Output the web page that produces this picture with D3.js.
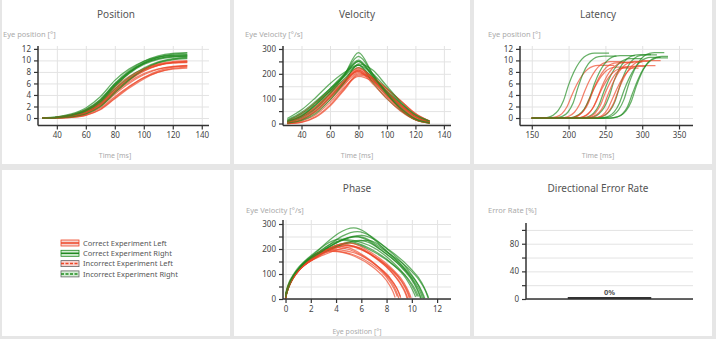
<!DOCTYPE html>
<html>
<head>
<meta charset="utf-8">
<script src="https://cdn.jsdelivr.net/npm/d3@7"></script>
<style>
  body { margin: 0; background: #e6e6e6; font-family: "Noto Sans", sans-serif; }
  svg { display: block; }
</style>
</head>
<body>
<svg id="chart" width="716" height="339"></svg>
<script>
// ---- data ----
const times = [30, 40, 50, 60, 70, 80, 90, 100, 110, 120, 130];

// eye position [deg] per trial, sampled at `times`
const posGreen = [
  [0, 0.12, 0.48, 1.32, 3.0, 5.75, 7.95, 9.55, 10.58, 11.1, 11.28],
  [0, 0.07, 0.32, 1.0, 2.55, 5.4, 7.83, 9.43, 10.3, 10.65, 10.74],
  [0, 0.15, 0.59, 1.49, 3.21, 5.9, 7.98, 9.45, 10.33, 10.73, 10.84],
  [0, 0.05, 0.25, 0.83, 2.18, 4.59, 6.76, 8.46, 9.56, 10.11, 10.3],
  [0, 0.19, 0.71, 1.75, 3.68, 6.53, 8.53, 9.85, 10.6, 10.93, 11.02],
  [0, 0.1, 0.43, 1.22, 2.86, 5.69, 8.04, 9.64, 10.51, 10.86, 10.95],
  [0, 0.08, 0.36, 1.07, 2.58, 5.05, 7.1, 8.68, 9.73, 10.3, 10.53],
  [0, 0.13, 0.53, 1.41, 3.15, 5.99, 8.24, 9.84, 10.79, 11.21, 11.33],
  [0, 0.04, 0.2, 0.7, 1.96, 4.33, 6.6, 8.43, 9.6, 10.2, 10.43],
  [0, 0.1, 0.43, 1.22, 2.84, 5.54, 7.74, 9.29, 10.19, 10.58, 10.69]
];
const posRed = [
  [0, 0.05, 0.23, 0.76, 1.99, 4.14, 6.04, 7.51, 8.46, 8.95, 9.12],
  [0, 0.08, 0.35, 1.0, 2.38, 4.7, 6.68, 8.2, 9.18, 9.65, 9.8],
  [0, 0.02, 0.11, 0.46, 1.43, 3.33, 5.2, 6.8, 7.95, 8.6, 8.85],
  [0, 0.09, 0.41, 1.14, 2.62, 5.0, 6.93, 8.33, 9.15, 9.52, 9.62],
  [0, 0.03, 0.17, 0.62, 1.73, 3.7, 5.5, 6.98, 7.98, 8.5, 8.68],
  [0, 0.13, 0.53, 1.37, 2.96, 5.4, 7.25, 8.55, 9.29, 9.6, 9.68],
  [0, 0.05, 0.25, 0.83, 2.16, 4.41, 6.31, 7.71, 8.54, 8.89, 8.97],
  [0, 0.06, 0.3, 0.91, 2.23, 4.52, 6.55, 8.12, 9.15, 9.67, 9.85],
  [0, 0.02, 0.12, 0.5, 1.52, 3.49, 5.42, 7.04, 8.19, 8.84, 9.09],
  [0, 0.09, 0.38, 1.07, 2.51, 4.93, 6.95, 8.45, 9.38, 9.81, 9.94]
];

// eye velocity [deg/s] per trial, sampled at `times`
const velGreen = [
  [10, 35, 80, 135, 195, 250, 190, 130, 75, 30, 5],
  [5, 20, 60, 120, 195, 285, 200, 120, 55, 15, 2],
  [15, 45, 90, 140, 190, 235, 180, 115, 60, 20, 3],
  [3, 15, 50, 105, 170, 235, 200, 140, 80, 30, 8],
  [20, 55, 105, 160, 205, 235, 165, 100, 50, 15, 3],
  [8, 30, 75, 130, 195, 270, 200, 120, 55, 15, 2],
  [5, 25, 65, 120, 180, 225, 185, 130, 80, 35, 10],
  [12, 40, 85, 140, 200, 255, 195, 125, 65, 20, 4],
  [2, 12, 40, 95, 165, 240, 215, 150, 85, 35, 10],
  [8, 30, 75, 130, 190, 250, 190, 120, 60, 18, 3]
];
const velRed = [
  [2, 15, 45, 95, 155, 205, 175, 120, 70, 28, 5],
  [5, 25, 60, 110, 165, 215, 180, 125, 70, 25, 4],
  [0, 5, 25, 70, 135, 195, 180, 140, 90, 40, 10],
  [6, 30, 70, 120, 170, 215, 170, 110, 55, 18, 3],
  [0, 10, 35, 85, 145, 190, 170, 125, 75, 30, 6],
  [10, 40, 85, 130, 175, 210, 160, 100, 48, 14, 2],
  [2, 15, 50, 105, 165, 210, 170, 110, 55, 15, 2],
  [4, 20, 55, 105, 160, 220, 185, 130, 75, 30, 6],
  [0, 6, 28, 75, 140, 200, 185, 140, 90, 40, 10],
  [5, 28, 65, 115, 170, 225, 180, 120, 65, 22, 4]
];

// latency panel: stimulus-locked traces
const latWindowStart = 150;
const latSteps = [0, 7, 14, 21, 28, 35, 42, 49, 56, 63, 70];
const latStartGreen = [165, 178, 200, 213, 227, 235, 241, 247, 252, 257];
const latEndGreen = [255, 265, 290, 300, 312, 320, 325, 330, 335, 335];
const latStartRed = [170, 187, 193, 199, 205, 210, 215, 220, 225, 233];
const latEndRed = [262, 275, 282, 288, 295, 300, 305, 310, 318, 325];

// directional error rate
const errorCategories = ['All'];
const errorRates = [0];

// ticks
const timeTicks = [40, 60, 80, 100, 120, 140];
const latTicks = [150, 200, 250, 300, 350];
const posTicks = [0, 2, 4, 6, 8, 10, 12];
const velTicks = [0, 50, 100, 150, 200, 250, 300];
const velLabels = [0, 100, 200, 300];
const phaseTicks = [0, 2, 4, 6, 8, 10, 12];
const errTicks = [0, 20, 40, 60, 80, 100];
const errLabels = [0, 40, 80];

const legendLabels = ['Correct Experiment Left', 'Correct Experiment Right',
  'Incorrect Experiment Left', 'Incorrect Experiment Right'];

const RED = '#ee4526';
const GREEN = '#1f8a1f';

// ---- layout ----
const svg = d3.select('#chart');

const panels = [
  { x: 2, y: 0, w: 228, h: 164 }, { x: 234, y: 0, w: 236, h: 164 }, { x: 474, y: 0, w: 238, h: 164 },
  { x: 2, y: 170, w: 228, h: 166 }, { x: 234, y: 170, w: 236, h: 166 }, { x: 474, y: 170, w: 238, h: 166 }
];
svg.selectAll('rect.panel').data(panels).enter().append('rect')
  .attr('class', 'panel')
  .attr('x', d => d.x).attr('y', d => d.y)
  .attr('width', d => d.w).attr('height', d => d.h)
  .attr('fill', '#fff');

function text(x, y, str, size, color, anchor, weight) {
  return svg.append('text').attr('x', x).attr('y', y)
    .attr('font-size', size).attr('fill', color)
    .attr('text-anchor', anchor || 'start')
    .attr('font-weight', weight || 'normal')
    .text(str);
}

// grid + scales
function frame(o) {
  const x = o.x || d3.scaleLinear().domain(o.xd).range(o.xr);
  const y = d3.scaleLinear().domain(o.yd).range(o.yr);
  const g = svg.append('g');
  const w = o.xr[1] - o.xr[0], h = o.yr[0] - o.yr[1];
  if (o.xt) {
    g.append('g').attr('transform', `translate(0,${o.yr[0]})`)
      .call(d3.axisBottom(x).tickValues(o.xt).tickSize(-h).tickFormat(''))
      .call(s => s.select('.domain').remove())
      .selectAll('line').attr('stroke', '#e3e3e3');
  }
  g.append('g').attr('transform', `translate(${o.xr[0]},0)`)
    .call(d3.axisLeft(y).tickValues(o.yt).tickSize(-w).tickFormat(''))
    .call(s => s.select('.domain').remove())
    .selectAll('line').attr('stroke', '#e3e3e3');
  return { x, y, o };
}

function axes(f) {
  const o = f.o;
  const gy = svg.append('g').attr('transform', `translate(${o.xr[0]},0)`)
    .call(d3.axisLeft(f.y).tickValues(o.yt).tickSize(4).tickPadding(3)
      .tickFormat(d => (o.yl ? (o.yl.includes(d) ? d : '') : d)));
  const gx = svg.append('g').attr('transform', `translate(0,${o.yr[0]})`)
    .call(d3.axisBottom(f.x).tickValues(o.xt || []).tickSize(o.xt ? 4 : 0).tickPadding(3)
      .tickFormat(o.xt ? (d => d) : ''));
  gx.select('.domain').attr('d', `M${o.xr[0]},0H${o.xr[1]}`);
  gy.select('.domain').attr('d', `M0,${o.yr[0]}V${o.yr[1]}`);
  [gx, gy].forEach(a => {
    a.select('.domain').attr('stroke', '#333').attr('stroke-width', 1.5);
    a.selectAll('.tick line').attr('stroke', '#333').attr('stroke-width', 1.2);
    a.selectAll('.tick text').attr('fill', '#444').attr('font-size', 8)
      .attr('font-family', '"Noto Sans", sans-serif');
  });
}

const line = d3.line().curve(d3.curveMonotoneX);

function traces(f, series) {
  const g = svg.append('g').attr('fill', 'none').attr('stroke-width', 1.25)
    .attr('stroke-opacity', 0.68).attr('stroke-linejoin', 'round');
  series.forEach(s => {
    g.append('path').attr('stroke', s.color)
      .attr('d', line.x(p => f.x(p[0])).y(p => f.y(p[1]))(s.pts));
  });
}

// interleave red / green so the colours mix like the original
function interleave(build) {
  const out = [];
  posRed.forEach((_, i) => {
    out.push({ color: RED, pts: build('r', i) });
    out.push({ color: GREEN, pts: build('g', i) });
  });
  return out;
}
const P = k => (k === 'r' ? posRed : posGreen);
const V = k => (k === 'r' ? velRed : velGreen);

// ---- Position ----
text(116, 18, 'Position', 10, '#555', 'middle');
text(3, 37, 'Eye position [°]', 7.5, '#aaa');
text(115, 158, 'Time [ms]', 7, '#aaa', 'middle');
const fPos = frame({ xd: [27, 145], xr: [38, 209], yd: [-1.3, 12.5], yr: [125.5, 46], xt: timeTicks, yt: posTicks });
traces(fPos, interleave((k, i) => times.map((t, j) => [t, P(k)[i][j]])));
axes(fPos);

// ---- Velocity ----
text(357, 18, 'Velocity', 10, '#555', 'middle');
text(245, 37, 'Eye Velocity [°/s]', 7.5, '#aaa');
text(357, 158, 'Time [ms]', 7, '#aaa', 'middle');
const fVel = frame({ xd: [27, 145], xr: [283, 451], yd: [-8, 312], yr: [125.5, 46], xt: timeTicks, yt: velTicks, yl: velLabels });
traces(fVel, interleave((k, i) => times.map((t, j) => [t, V(k)[i][j]])));
axes(fVel);

// ---- Latency ----
text(598, 18, 'Latency', 10, '#555', 'middle');
text(488, 37, 'Eye position [°]', 7.5, '#aaa');
text(598, 158, 'Time [ms]', 7, '#aaa', 'middle');
const fLat = frame({ xd: [134, 369], xr: [520, 693], yd: [-1.3, 12.5], yr: [125.5, 46], xt: latTicks, yt: posTicks });
traces(fLat, interleave((k, i) => {
  const st = (k === 'r' ? latStartRed : latStartGreen)[i];
  const en = (k === 'r' ? latEndRed : latEndGreen)[i];
  const pos = P(k)[i];
  return [[latWindowStart, 0]]
    .concat(latSteps.map((s, j) => [st + s, pos[j]]))
    .concat([[en, pos[pos.length - 1]]]);
}));
axes(fLat);

// ---- Legend ----
const legend = svg.append('g');
legendLabels.forEach((lab, i) => {
  const cy = 243 + i * 10.3;
  const col = i % 2 === 0 ? RED : GREEN;
  const fill = i % 2 === 0 ? '#f6d4cf' : '#d3ecd3';
  legend.append('rect').attr('x', 61).attr('y', cy - 3).attr('width', 18).attr('height', 6)
    .attr('fill', fill).attr('stroke', i < 2 ? col : '#666').attr('stroke-width', 0.8);
  legend.append('line').attr('x1', 61).attr('x2', 79).attr('y1', cy).attr('y2', cy)
    .attr('stroke', col).attr('stroke-width', 1.5)
    .attr('stroke-dasharray', i < 2 ? null : '3,1.5');
  legend.append('text').attr('x', 83).attr('y', cy + 2.8).attr('font-size', 7.5)
    .attr('fill', '#555').text(lab);
});

// ---- Phase ----
text(357, 192, 'Phase', 10, '#555', 'middle');
text(246, 213, 'Eye Velocity [°/s]', 7.5, '#aaa');
text(357, 334, 'Eye position [°]', 7, '#aaa', 'middle');
const fPh = frame({ xd: [-0.2, 13.1], xr: [283, 451], yd: [0, 316], yr: [299, 220], xt: phaseTicks, yt: velTicks, yl: velLabels });
traces(fPh, interleave((k, i) => P(k)[i].map((p, j) => [p, V(k)[i][j]])));
axes(fPh);

// ---- Directional Error Rate ----
text(598, 192, 'Directional Error Rate', 10, '#555', 'middle');
text(488, 213, 'Error Rate [%]', 7.5, '#aaa');
const xErr = d3.scaleBand().domain(errorCategories).range([526, 693]).paddingInner(0.5).paddingOuter(0.25);
const fErr = frame({ x: xErr, xr: [526, 693], yd: [0, 110], yr: [299, 223], yt: errTicks, yl: errLabels });
svg.append('g').selectAll('rect').data(errorRates).enter().append('rect')
  .attr('x', (d, i) => xErr(errorCategories[i]))
  .attr('width', xErr.bandwidth())
  .attr('y', d => fErr.y(d) - 2)
  .attr('height', d => fErr.y(0) - fErr.y(d) + 2)
  .attr('fill', '#333');
svg.append('g').selectAll('text').data(errorRates).enter().append('text')
  .attr('x', (d, i) => xErr(errorCategories[i]) + xErr.bandwidth() / 2)
  .attr('y', d => fErr.y(d) - 4)
  .attr('text-anchor', 'middle').attr('font-size', 7.5).attr('font-weight', 'bold')
  .attr('fill', '#555').text(d => d + '%');
axes(fErr);
</script>
</body>
</html>
